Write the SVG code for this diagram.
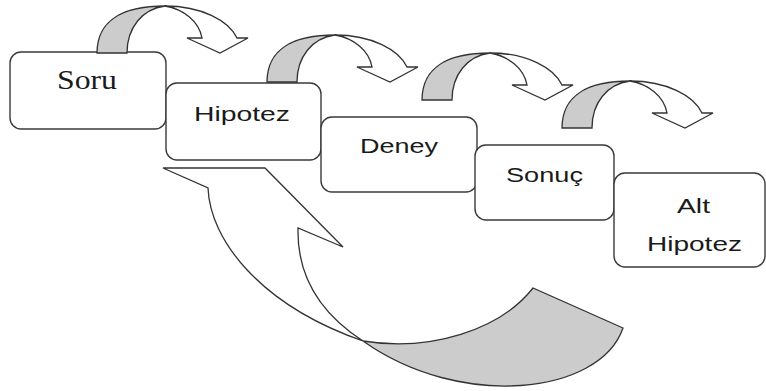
<svg xmlns="http://www.w3.org/2000/svg" xmlns:xlink="http://www.w3.org/1999/xlink" width="766" height="391" viewBox="0 0 766 391">
<style>
.box{fill:#ffffff;stroke:#3a3a3a;stroke-width:1.4}
.shade{fill:#cccccc;stroke:#333333;stroke-width:1.3;stroke-linejoin:miter}
.front{fill:#ffffff;stroke:#333333;stroke-width:1.3;stroke-linejoin:miter}
.lbl{font-family:"Liberation Sans",Arial,sans-serif;font-size:21px;fill:#1a1a1a}
.serif{font-family:"Liberation Serif","Times New Roman",serif;font-size:27px;fill:#1a1a1a}
</style>
<defs>
<g id="curveArrow">
<path class="shade" d="M0,0 C0,-34 28,-47 68,-47 C45,-44 30,-25 30,0 Z"/>
<path class="front" d="M68,-47 C105,-47 132,-32 140,-15 L151,-15 L123,0 L90,-15 L105,-15 C102,-32 86,-44 68,-47 Z"/>
</g>
</defs>
<g id="soru">
<rect class="box" x="10" y="52" width="156" height="77" rx="11"/>
<text class="serif" x="57" y="89" textLength="60" lengthAdjust="spacingAndGlyphs">Soru</text>
</g>
<g id="hipotez">
<rect class="box" x="166" y="83" width="155" height="77" rx="11"/>
<text class="lbl" x="194" y="121" textLength="96" lengthAdjust="spacingAndGlyphs">Hipotez</text>
</g>
<g id="deney">
<rect class="box" x="321" y="117" width="156" height="75" rx="11"/>
<text class="lbl" x="360" y="153" textLength="78" lengthAdjust="spacingAndGlyphs">Deney</text>
</g>
<g id="sonuc">
<rect class="box" x="475" y="145" width="139" height="75" rx="11"/>
<text class="lbl" x="506" y="182" textLength="77" lengthAdjust="spacingAndGlyphs">Sonuç</text>
</g>
<g id="alt-hipotez">
<rect class="box" x="614" y="173" width="151" height="94" rx="11"/>
<text class="lbl" x="677" y="213" textLength="33" lengthAdjust="spacingAndGlyphs">Alt</text>
<text class="lbl" x="647" y="251" textLength="95" lengthAdjust="spacingAndGlyphs">Hipotez</text>
</g>
<g id="connectors">
<use xlink:href="#curveArrow" href="#curveArrow" x="97" y="53"/>
<use xlink:href="#curveArrow" href="#curveArrow" x="267" y="82"/>
<use xlink:href="#curveArrow" href="#curveArrow" x="422" y="100"/>
<use xlink:href="#curveArrow" href="#curveArrow" x="562" y="128"/>
<g id="return-arrow">
<path class="shade" d="M363,341 C430,352 500,330 533,288 L623,328 C600,395 460,410 363,341 Z"/>
<path class="front" d="M363,341 C260,305 210,240 208,188 L163,168 L265,168 L343,247 L298,228 C297,270 315,310 363,341 Z"/>
</g>
</g>
</svg>
